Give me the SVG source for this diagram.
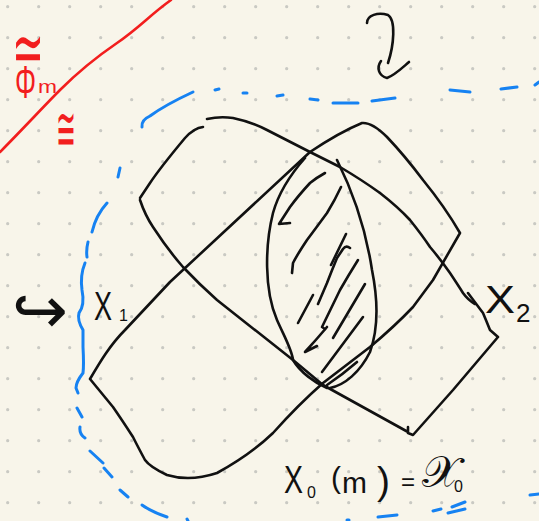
<svg xmlns="http://www.w3.org/2000/svg" width="539" height="521" viewBox="0 0 539 521">
<style>
.ink{fill:none;stroke:#111;stroke-width:2.6;stroke-linecap:round;stroke-linejoin:round}
.blue{fill:none;stroke:#1682f2;stroke-width:3;stroke-linecap:round;stroke-linejoin:round}
.red{fill:none;stroke:#f21e1e;stroke-width:2.6;stroke-linecap:round;stroke-linejoin:round}
.t{font-family:"Liberation Sans","DejaVu Sans",sans-serif;fill:#111}
.sym{font-family:"DejaVu Sans","Noto Sans",sans-serif}
.rt{fill:#f21e1e}
</style>
<defs>
<pattern id="dots" patternUnits="userSpaceOnUse" x="0" y="0" width="31" height="31">
<circle cx="7.7" cy="6.7" r="1.6" fill="#c9c9c3"/>
</pattern>
</defs>
<rect width="539" height="521" fill="#f8f5ea"/>
<rect width="539" height="521" fill="url(#dots)"/>

<g id="red-annotation">
<path class="red" d="M0,152 C20,132 45,105 60,90 S95,58 117,43 S150,15 171,0"/>
<text class="sym rt" x="12" y="73" font-size="74" font-weight="200" textLength="32" lengthAdjust="spacingAndGlyphs">≃</text>
<text class="t rt" font-size="46"><tspan x="15" y="98" textLength="21" lengthAdjust="spacingAndGlyphs">Φ</tspan><tspan x="38" y="93" font-size="18" textLength="19" lengthAdjust="spacingAndGlyphs">m</tspan></text>
<text class="sym rt" x="56" y="150" font-size="62" font-weight="200" textLength="20" lengthAdjust="spacingAndGlyphs">≅</text>
</g>

<g id="arrow-top">
<path class="ink" d="M367,23 C367,15 378,12 388,15 C396,20 394,45 388,63"/>
<path class="ink" d="M381,61 C376,68 379,76 387,78 C395,75 402,68 409,62"/>
</g>

<g id="boundary">
<path class="blue" d="M142,127 Q141,120 150,116 Q165,105 193,92"/>
<path class="blue" d="M215,90 L219,89 M243,93 L247,93 M277,96 L283,95 M310,99 L318,100 M333,103 L358,103 M372,101 L395,98 M450,90 L470,92 M501,89 L517,87 M535,85 L539,82"/>
<path class="blue" d="M120,168 L118,177 M107,203 Q96,215 92,232 M88,242 Q86,250 87,257"/>
<path class="blue" d="M85,263 Q80,275 82,290 Q85,305 79,313 Q77,320 83,330 L83,347 Q84,365 83,373 Q76,382 76,388 L78,393"/>
<path class="blue" d="M77,408 L82,417 M80,427 Q79,434 85,438 M90,451 L103,463 M104,468 L112,477 M120,490 L128,497 M142,505 Q152,512 167,517 M187,519 L188,521"/>
<path class="blue" d="M347,520 L349,520 M378,517 L397,515 M433,511 L441,509 M452,507 L465,502 M448,513 L465,509 M530,495 L539,494"/>
</g>

<g id="region-X1">
<path class="ink" d="M90,379 C100,362 110,345 125,330 L170,282 L310,152 Q340,132 362,123 Q372,122 387,137 Q405,156 423,180 Q445,207 460,233 L433,280 L413,307 Q395,326 370,347 L323,383 Q298,405 273,433 Q250,455 217,473 Q190,482 167,475 Q150,467 145,460 Q138,447 133,437 Q122,420 113,407 Z"/>
</g>

<g id="region-X2">
<path class="ink" d="M203,127 Q194,128 185,138 Q160,168 150,183 L140,198"/>
<path class="ink" d="M140,200 Q145,215 153,227 Q168,250 183,267 Q200,285 217,300 L293,360 L323,385 L408,432 L408,427 M408,433 L413,435 L453,390 L498,337 L490,330 Q486,320 483,313 L468,293"/>
<path class="ink" d="M207,119 Q220,116 233,118 Q252,122 267,130 L310,152 L340,167 Q362,180 380,193 Q398,207 410,220 Q422,235 430,247 Q441,260 450,273 Q458,285 463,293 Q468,300 475,304"/>
</g>

<g id="intersection">
<path class="ink" d="M305,158 C290,175 278,195 273,213 C265,245 264,290 277,320 C285,338 292,350 293,360 C300,372 315,383 327,388"/>
<path class="ink" d="M337,160 C352,190 366,230 372,270 C378,300 378,330 370,352 C360,372 345,385 330,388"/>
<path class="ink" d="M325,173 Q316,178 310,183 Q298,196 290,207 L279,224 L290,223"/>
<path class="ink" d="M341,187 Q335,200 327,213 Q316,228 307,240 Q297,255 293,263 L292,273"/>
<path class="ink" d="M346,234 L331,265"/>
<path class="ink" d="M350,248 Q346,245 343,249 L337,258 Q332,270 327,283 L318,304"/>
<path class="ink" d="M358,260 Q348,276 340,290 L322,327 L325,329"/>
<path class="ink" d="M365,284 L333,338"/>
<path class="ink" d="M313,295 L298,323"/>
<path class="ink" d="M327,327 Q316,340 305,352 L317,346"/>
<path class="ink" d="M363,317 Q342,345 322,372"/>
<path class="ink" d="M357,362 Q342,375 327,385"/>
</g>

<g id="labels">
<text class="sym" x="12" y="333" font-size="66" textLength="56" lengthAdjust="spacingAndGlyphs" fill="#111">↪</text>
<text class="t" font-size="40"><tspan x="94" y="320" textLength="18" lengthAdjust="spacingAndGlyphs">X</tspan><tspan x="119" y="321" font-size="16">1</tspan></text>
<text class="t" font-size="38"><tspan x="485" y="313" textLength="30" lengthAdjust="spacingAndGlyphs">X</tspan><tspan x="516" y="322" font-size="26">2</tspan></text>
<text class="t" font-size="30">
<tspan x="284" y="493" font-size="38" textLength="19" lengthAdjust="spacingAndGlyphs">X</tspan><tspan x="307" y="498" font-size="16">0</tspan><tspan x="331" y="488">(</tspan><tspan x="342" y="493">m</tspan><tspan x="377" y="494" font-size="39">)</tspan><tspan x="401" y="490" font-size="24">=</tspan><tspan x="422" y="487" font-size="44" font-family="DejaVu Sans, DejaVu Serif, serif">𝒳</tspan><tspan x="454" y="492" font-size="16">0</tspan>
</text>
</g>
</svg>
